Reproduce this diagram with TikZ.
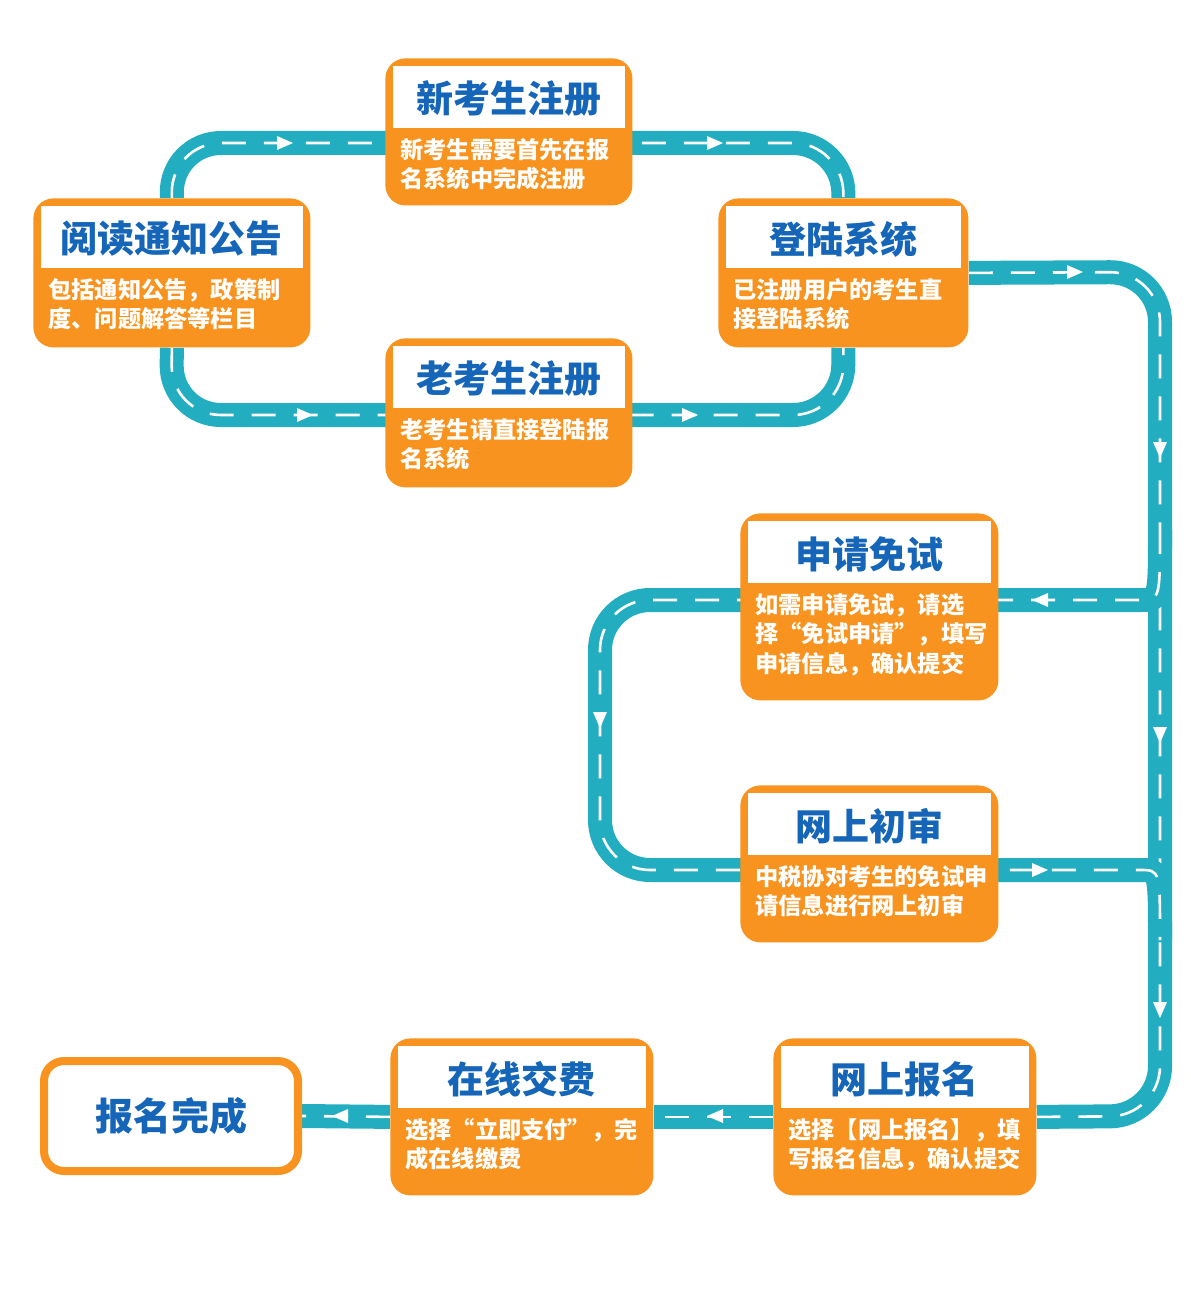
\documentclass[tikz,border=0pt]{standalone}
\usepackage{fontspec}
\setmainfont{Noto Sans CJK SC}
\definecolor{org}{HTML}{F7931E}
\definecolor{ttlblue}{HTML}{1565B8}
\definecolor{road}{HTML}{22AEC0}
\tikzset{
 obox/.style={fill=org,rounded corners=10pt,inner sep=0pt},
 ttl/.style={text=ttlblue,font=\fontsize{18.5pt}{20pt}\selectfont\bfseries,inner sep=0pt},
 bdy/.style={text=white,font=\fontsize{11.6pt}{14.7pt}\selectfont\bfseries,inner sep=0pt,align=left},
 roadway/.style={draw=road,line width=12pt,rounded corners=25pt,
   postaction={draw=white,line width=1.3pt,dash pattern=on 12pt off 9pt}},
}
\newcommand\flowbox[7]{%
 \node[obox,anchor=north west,minimum width=#4*0.5pt,minimum height=#5*0.5pt] (#1) at (#2,#3) {};
 \fill[white] ([xshift=4pt,yshift=-4pt]#1.north west) rectangle ([xshift=-4pt,yshift=-35pt]#1.north east);
 \node[ttl] (#1-t) at ([yshift=-20.5pt]#1.north) {#6};
 \node[bdy,anchor=north west] (#1-b) at ([xshift=7.5pt,yshift=-40pt]#1.north west) {#7};}
\newcommand\roadarrow[2]{\fill[white,shift={(#1)},rotate=#2] (4pt,0) -- (-4pt,3.5pt) -- (-4pt,-3.5pt) -- cycle;}
\begin{document}
\begin{tikzpicture}[x=0.5pt,y=-0.5pt]
\pgfdeclarelayer{bg}\pgfdeclarelayer{bgfill}\pgfsetlayers{bgfill,bg,main}
\begin{pgfonlayer}{bgfill}
\fill[white] (0,0) rectangle (1190,1300);
\end{pgfonlayer}
\useasboundingbox (0,0) rectangle (1190,1300);
\flowbox{new}{385}{58}{247}{147}{新考生注册}{新考生需要首先在报\\名系统中完成注册}
\flowbox{read}{33}{198}{277}{149}{阅读通知公告}{包括通知公告，政策制\\度、问题解答等栏目}
\flowbox{login}{718}{198}{250}{149}{登陆系统}{已注册用户的考生直\\接登陆系统}
\flowbox{old}{385}{338}{247}{149}{老考生注册}{老考生请直接登陆报\\名系统}
\flowbox{exempt}{740}{513}{258}{187}{申请免试}{如需申请免试，请选\\择“免试申请”，填写\\申请信息，确认提交}
\flowbox{review}{740}{785}{258}{157}{网上初审}{中税协对考生的免试申\\请信息进行网上初审}
\flowbox{signup}{773}{1038}{263}{157}{网上报名}{选择【网上报名】，填\\写报名信息，确认提交}
\flowbox{pay}{390}{1038}{263}{157}{在线交费}{选择“立即支付”，完\\成在线缴费}
\node[draw=org,line width=4pt,fill=white,rounded corners=10pt,minimum width=127pt,minimum height=55pt,
  text=ttlblue,font=\fontsize{19pt}{20pt}\selectfont\bfseries] (done) at (171,1116) {报名完成};
\begin{pgfonlayer}{bg}
\draw[roadway] (read.north) -- (171,143) -- (843,143) -- (login.north);
\draw[roadway] (read.south) -- (171,415) -- (843,415) -- (login.south);
\draw[roadway] (login.east) -- (1160,272) -- (1160,1116) -- (signup.east);
\draw[roadway] (1160,530) .. controls (1160,600) .. (1090,600) -- (600,600) -- (600,870) -- (1090,870) .. controls (1160,870) .. (1160,940);
\draw[roadway] (signup.west) -- (pay.east);
\draw[roadway] (pay.west) -- (done.east);
\end{pgfonlayer}
\roadarrow{285,143}{0}\roadarrow{715,143}{0}
\roadarrow{305,415}{0}\roadarrow{690,415}{0}
\roadarrow{1075,272}{0}
\roadarrow{1160,450}{-90}\roadarrow{1160,735}{-90}\roadarrow{1160,1010}{-90}
\roadarrow{1040,600}{180}\roadarrow{600,720}{-90}\roadarrow{1040,870}{0}
\roadarrow{715,1116}{180}\roadarrow{340,1116}{180}
\end{tikzpicture}
\end{document}
